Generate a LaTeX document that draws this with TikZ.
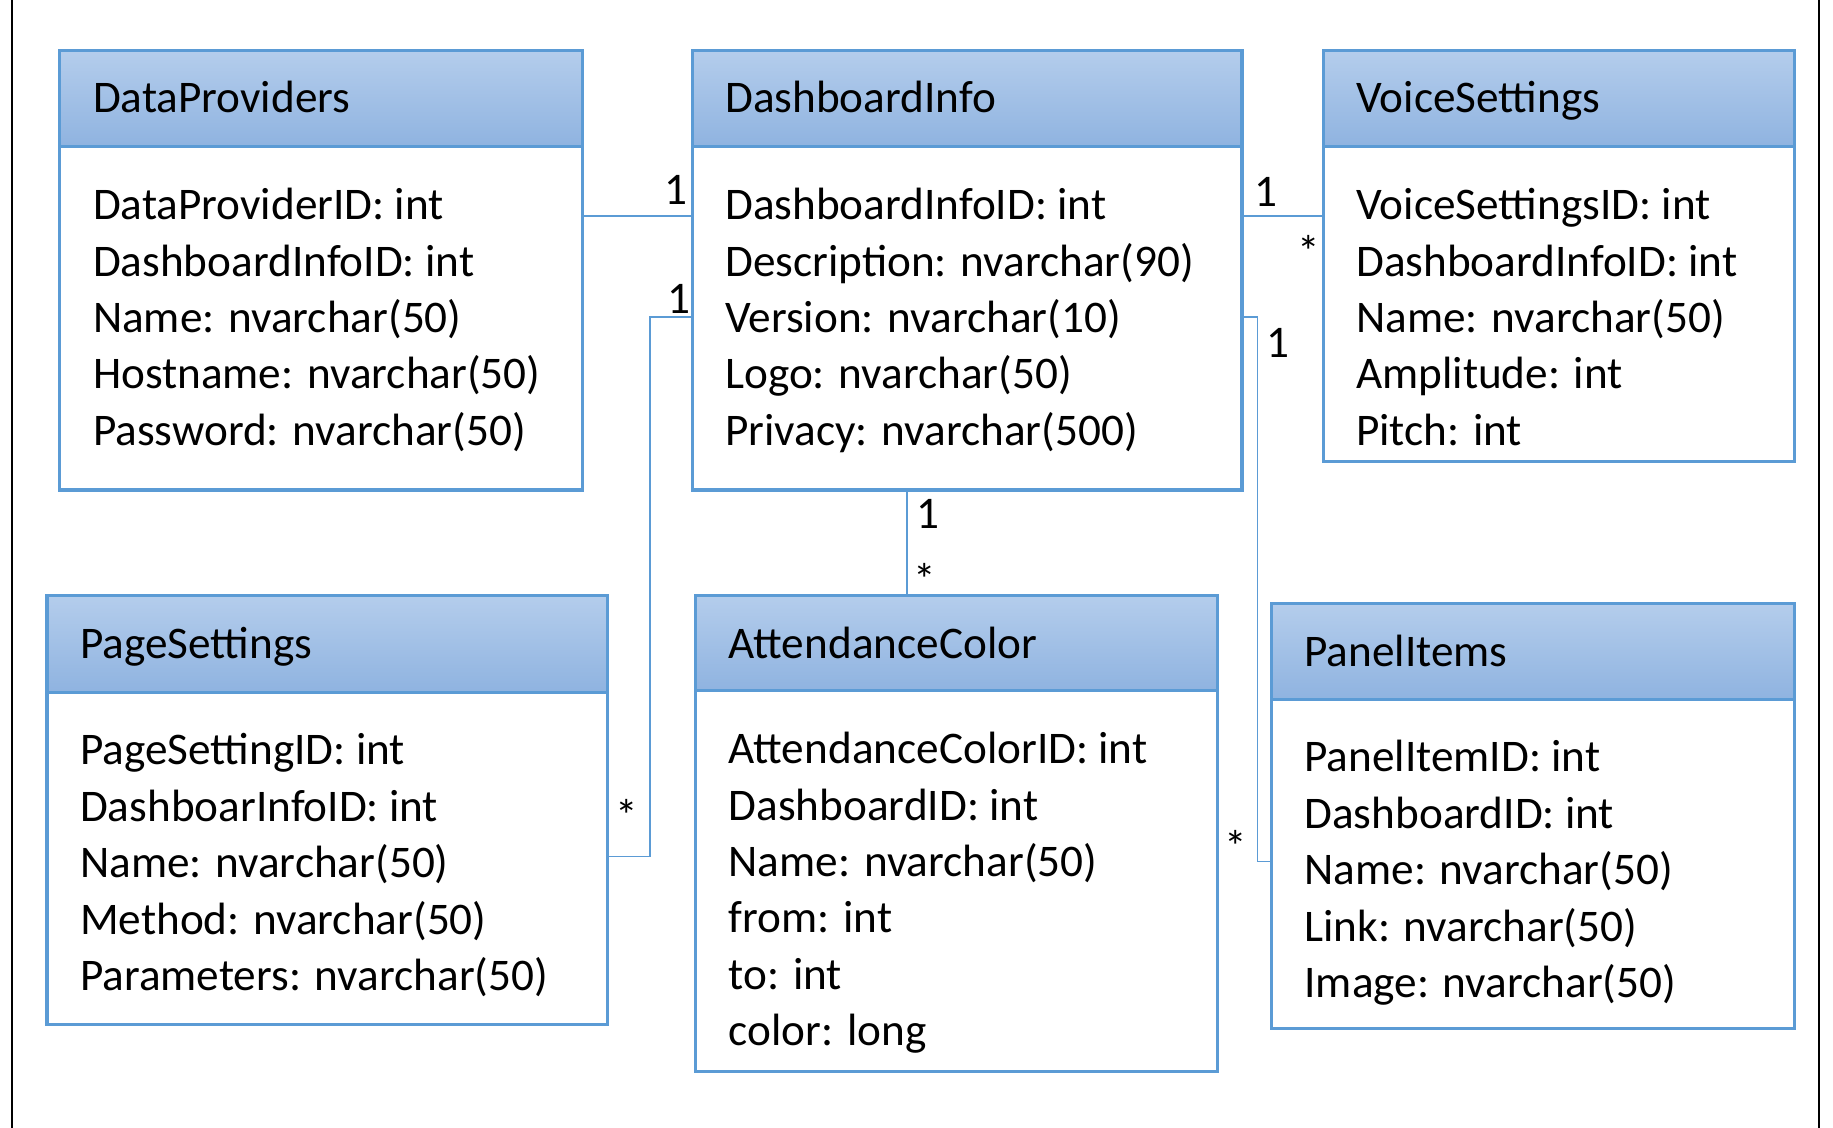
\documentclass[tikz,border=0pt]{standalone}
\usepackage{fontspec}
\setmainfont{Carlito}
\definecolor{bord}{HTML}{5B9BD5}
\definecolor{htop}{HTML}{B4CDEC}
\definecolor{hbot}{HTML}{8FB3E0}
\tikzset{
  boxline/.style={draw=bord,line width=2.6pt},
  hdr/.style={boxline,top color=htop,bottom color=hbot},
  txt/.style={anchor=base west,inner sep=0pt,font=\fontsize{38.5}{44}\selectfont},
  lbl/.style={inner sep=0pt,font=\fontsize{38.5}{44}\selectfont},
  conn/.style={draw=bord,line width=1.3pt}
}
\newcommand{\umlbox}[8]{% name x1 y1 x2 y2 yh title attrs
  \draw[hdr] (#2,#3) rectangle (#4,#6);
  \draw[boxline,fill=white] (#2,#6) rectangle (#4,#5);
  \node[txt] (#1) at (#2+28,#3+53) {#7};
  \coordinate (#1-nw) at (#2,#3);
  \coordinate (#1-se) at (#4,#5);
  \foreach \t [count=\i] in {#8} {\node[txt] (#1-a\i) at (#2+28,#6+62+48*\i-48) {\t};}
}
\begin{document}
\begin{tikzpicture}[x=1pt,y=-1pt]
\useasboundingbox (0,0) rectangle (1560,960);
\draw[line width=1.5pt] (10,0) -- (10,960) (1548,0) -- (1548,960);
\umlbox{dp}{51}{43}{496}{417}{125}{DataProviders}{DataProviderID: int,DashboardInfoID: int,Name: nvarchar(50),Hostname: nvarchar(50),Password: nvarchar(50)}
\umlbox{di}{589}{43}{1057}{417}{125}{DashboardInfo}{DashboardInfoID: int,Description: nvarchar(90),Version: nvarchar(10),Logo: nvarchar(50),Privacy: nvarchar(500)}
\umlbox{vs}{1126}{43}{1527}{393}{125}{VoiceSettings}{VoiceSettingsID: int,DashboardInfoID: int,Name: nvarchar(50),Amplitude: int,Pitch: int}
\umlbox{ps}{40}{507}{517}{872}{589}{PageSettings}{PageSettingID: int,DashboarInfoID: int,Name: nvarchar(50),Method: nvarchar(50),Parameters: nvarchar(50)}
\umlbox{ac}{592}{507}{1036}{912}{588}{AttendanceColor}{AttendanceColorID: int,DashboardID: int,Name: nvarchar(50),from: int,to: int,color: long}
\umlbox{pi}{1082}{514}{1527}{875}{595}{PanelItems}{PanelItemID: int,DashboardID: int,Name: nvarchar(50),Link: nvarchar(50),Image: nvarchar(50)}
\coordinate (c1a) at (496,184); \coordinate (c1b) at (589,184);
\draw[conn] (c1a) -- (c1b);
\node[lbl] at (575,162) {1};
\coordinate (c2a) at (517,729); \coordinate (c2b) at (589,270);
\draw[conn] (c2a) -- (553,729) -- (553,270) -- (c2b);
\node[lbl] at (578,254) {1};
\node[lbl] at (533,694) {*};
\coordinate (c3a) at (1059,184); \coordinate (c3b) at (1126,184);
\draw[conn] (c3a) -- (c3b);
\node[lbl] at (1077,163) {1};
\node[lbl] at (1114,214) {*};
\coordinate (c4a) at (1057,270); \coordinate (c4b) at (1082,733);
\draw[conn] (c4a) -- (1070,270) -- (1070,733) -- (c4b);
\node[lbl] at (1088,292) {1};
\node[lbl] at (1052,720) {*};
\coordinate (c5a) at (772,417); \coordinate (c5b) at (772,507);
\draw[conn] (c5a) -- (c5b);
\node[lbl] at (790,437) {1};
\node[lbl] at (787,493) {*};
\end{tikzpicture}
\end{document}
